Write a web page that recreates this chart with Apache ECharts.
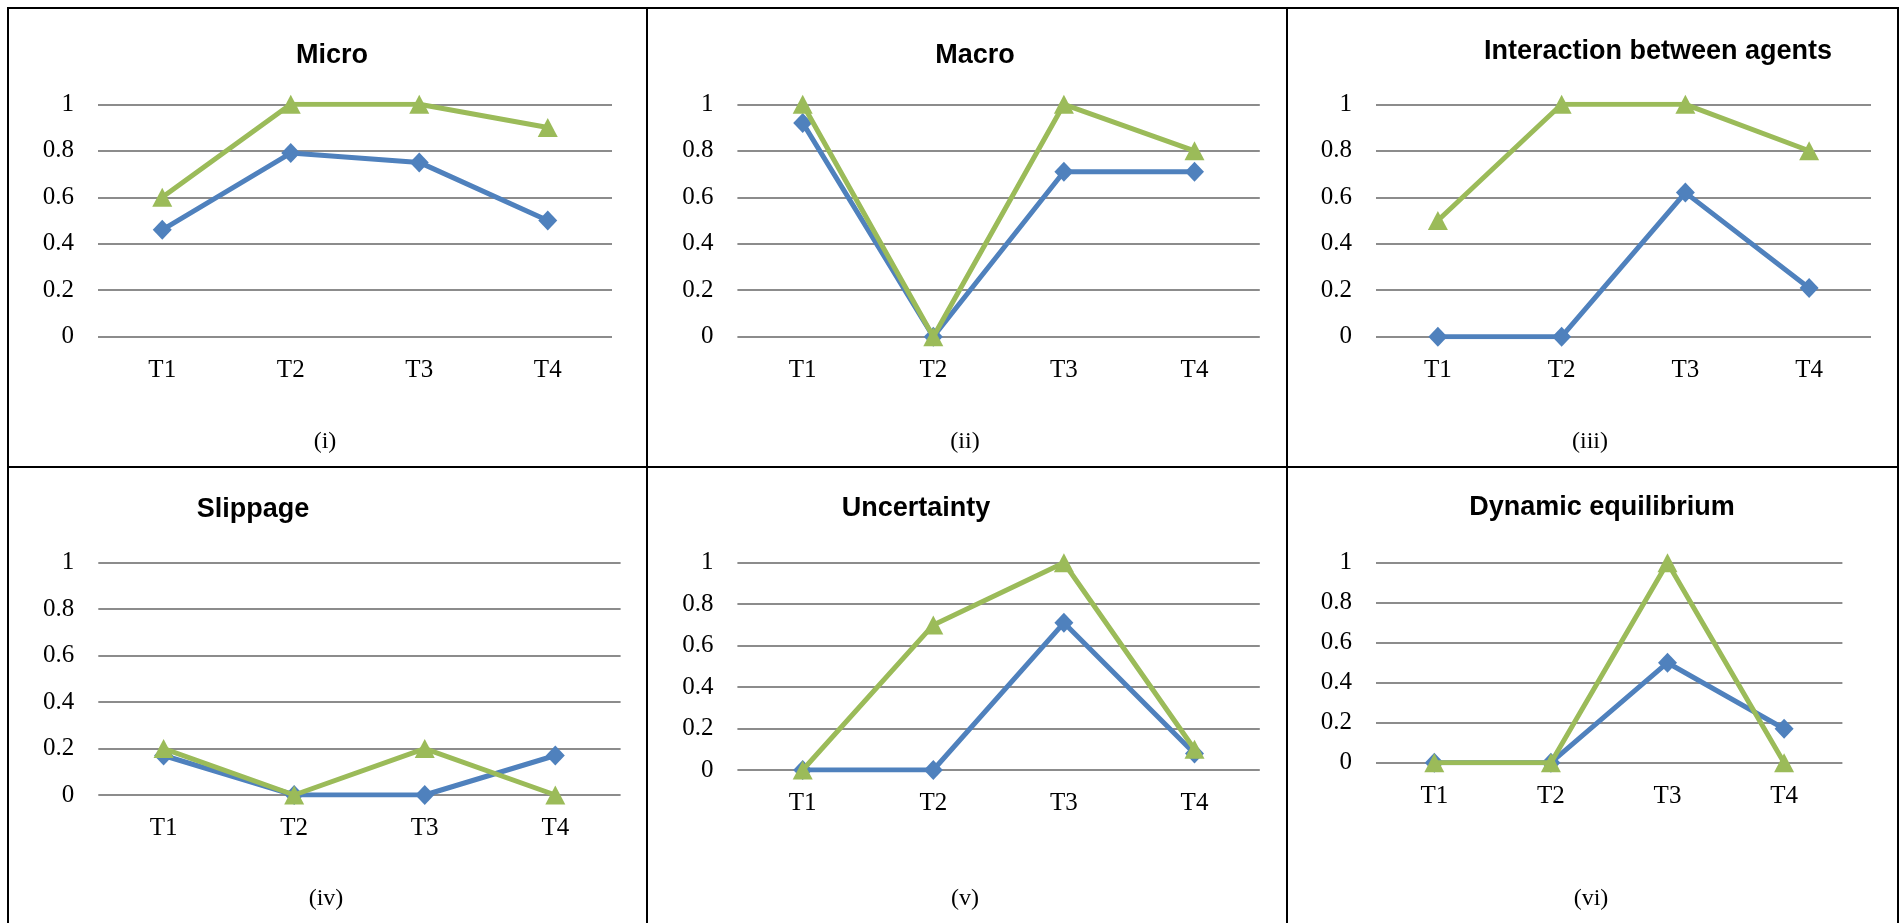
<!DOCTYPE html>
<html>
<head>
<meta charset="utf-8">
<script src="https://cdn.jsdelivr.net/npm/echarts@6/dist/echarts.min.js"></script>
<style>
html,body{margin:0;padding:0;background:#fff;}
#chart{width:1904px;height:923px;}
</style>
</head>
<body>
<div id="chart"></div>
<script>
// ---- data ----
const categories = ['T1', 'T2', 'T3', 'T4'];
const yTicks = [0, 0.2, 0.4, 0.6, 0.8, 1];
const titles = ['Micro', 'Macro', 'Interaction between agents', 'Slippage', 'Uncertainty', 'Dynamic equilibrium'];
const captions = ['(i)', '(ii)', '(iii)', '(iv)', '(v)', '(vi)'];

const microBlue = [0.46, 0.79, 0.75, 0.50];
const microGreen = [0.6, 1, 1, 0.9];
const macroBlue = [0.92, 0, 0.71, 0.71];
const macroGreen = [1, 0, 1, 0.8];
const interactionBlue = [0, 0, 0.62, 0.21];
const interactionGreen = [0.5, 1, 1, 0.8];
const slippageBlue = [0.17, 0, 0, 0.17];
const slippageGreen = [0.2, 0, 0.2, 0];
const uncertaintyBlue = [0, 0, 0.71, 0.08];
const uncertaintyGreen = [0, 0.7, 1, 0.1];
const equilibriumBlue = [0, 0, 0.5, 0.17];
const equilibriumGreen = [0, 0, 1, 0];

const blueSeries = [microBlue, macroBlue, interactionBlue, slippageBlue, uncertaintyBlue, equilibriumBlue];
const greenSeries = [microGreen, macroGreen, interactionGreen, slippageGreen, uncertaintyGreen, equilibriumGreen];

// ---- layout ----
const grids = [
  {left: 98, top: 104.3, width: 514, height: 232.4},
  {left: 737.4, top: 104.3, width: 522.4, height: 232.4},
  {left: 1376, top: 104.3, width: 495, height: 232.4},
  {left: 98.3, top: 562.7, width: 522.3, height: 232.3},
  {left: 737.4, top: 562.7, width: 522.4, height: 207.3},
  {left: 1376, top: 562.7, width: 466.4, height: 200}
];
const titlePos = [[332, 56], [975, 56], [1658, 52], [253, 510], [916, 509], [1602, 508]];
const captionPos = [[325, 442], [965, 442], [1590, 442], [326, 899], [965, 899], [1591, 899]];

const BLUE = '#4F81BD', GREEN = '#9BBB59', GRIDC = '#8c8c8c';
const serif = '"Liberation Serif", "DejaVu Serif", serif';
const sans = '"Liberation Sans", Arial, sans-serif';

const chart = echarts.init(document.getElementById('chart'), null, {renderer: 'canvas'});

const xAxis = [], yAxis = [], series = [], graphic = [];
grids.forEach((g, i) => {
  xAxis.push({
    type: 'category', gridIndex: i, data: categories, boundaryGap: true,
    axisLine: {show: false}, axisTick: {show: false},
    axisLabel: {fontFamily: serif, fontSize: 25, color: '#000', margin: 21}
  });
  yAxis.push({
    type: 'value', gridIndex: i, min: yTicks[0], max: yTicks[yTicks.length - 1], interval: 0.2,
    axisLine: {show: false}, axisTick: {show: false},
    axisLabel: {fontFamily: serif, fontSize: 25, color: '#000', margin: 24,
      formatter: v => String(+v.toFixed(1))},
    splitLine: {show: true, lineStyle: {color: GRIDC, width: 2}}
  });
  series.push({
    name: 'Series 1', type: 'line', xAxisIndex: i, yAxisIndex: i, data: blueSeries[i],
    symbol: 'diamond', symbolSize: [19, 20], showSymbol: true, showAllSymbol: true,
    lineStyle: {color: BLUE, width: 5}, itemStyle: {color: BLUE}, z: 2
  });
  series.push({
    name: 'Series 2', type: 'line', xAxisIndex: i, yAxisIndex: i, data: greenSeries[i],
    symbol: 'triangle', symbolSize: [20, 19], showSymbol: true, showAllSymbol: true,
    lineStyle: {color: GREEN, width: 5}, itemStyle: {color: GREEN}, z: 3
  });
  graphic.push({
    type: 'text', x: titlePos[i][0], y: titlePos[i][1],
    style: {text: titles[i], fontFamily: sans, fontWeight: 'bold', fontSize: 27, fill: '#000',
      textAlign: 'center', textVerticalAlign: 'middle'}
  });
  graphic.push({
    type: 'text', x: captionPos[i][0], y: captionPos[i][1],
    style: {text: captions[i], fontFamily: serif, fontSize: 24, fill: '#000',
      textAlign: 'center', textVerticalAlign: 'middle'}
  });
});

// table borders
const borderStyle = {stroke: '#000', lineWidth: 2};
[
  [7, 8, 1899, 8], [8, 7, 8, 923], [1898, 7, 1898, 923],
  [647, 7, 647, 923], [1287, 7, 1287, 923], [7, 467, 1899, 467]
].forEach(s => graphic.push({type: 'line', shape: {x1: s[0], y1: s[1], x2: s[2], y2: s[3]}, style: borderStyle, silent: true}));

chart.setOption({
  animation: false,
  backgroundColor: '#fff',
  grid: grids.map(g => Object.assign({containLabel: false}, g)),
  xAxis, yAxis, series, graphic
});
</script>
</body>
</html>
